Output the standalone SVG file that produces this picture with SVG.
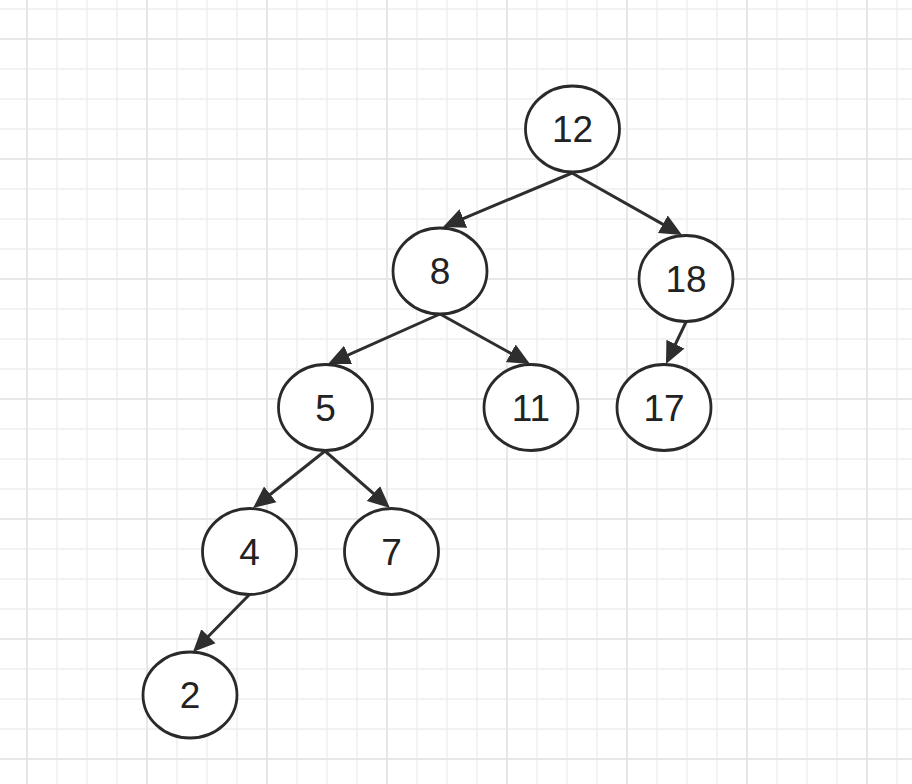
<svg xmlns="http://www.w3.org/2000/svg" width="912" height="784" viewBox="0 0 912 784">
  <style>
    .node ellipse { fill: #ffffff; stroke: #2a2a2a; stroke-width: 2.8; }
    .node text { font-family: "Liberation Sans", Arial, Helvetica, sans-serif; font-size: 37px; fill: #222222; text-anchor: middle; }
    .edge { stroke: #2e2e2e; stroke-width: 3; fill: none; marker-end: url(#arrow); }
  </style>
  <defs>
    <pattern id="minor" patternUnits="userSpaceOnUse" x="12" y="-6" width="30" height="30">
      <path d="M15,0 V30 M0,15 H30" stroke="#eeeeee" stroke-width="1.4" fill="none"/>
    </pattern>
    <pattern id="major" patternUnits="userSpaceOnUse" x="-33" y="-21" width="120" height="120">
      <path d="M60,0 V120 M0,60 H120" stroke="#e4e4e4" stroke-width="1.6" fill="none"/>
    </pattern>
    <marker id="arrow" markerUnits="userSpaceOnUse" viewBox="0 -12 24 24" refX="15" refY="0" markerWidth="24" markerHeight="24" orient="auto">
      <path d="M0,-10 L22,0 L0,10 Z" fill="#2e2e2e"/>
    </marker>
  </defs>
  <g id="background">
    <rect width="912" height="784" fill="#ffffff"/>
    <rect width="912" height="784" fill="url(#minor)"/>
    <rect width="912" height="784" fill="url(#major)"/>
  </g>
  <g id="connectors">
    <line class="edge" x1="572" y1="173" x2="449.5" y2="224.3"/>
    <line class="edge" x1="572" y1="173" x2="675.9" y2="231.6"/>
    <line class="edge" x1="440" y1="314" x2="334.4" y2="361.1"/>
    <line class="edge" x1="440" y1="314" x2="523.9" y2="360.6"/>
    <line class="edge" x1="686" y1="322" x2="669.0" y2="357.7"/>
    <line class="edge" x1="325" y1="451" x2="258.5" y2="503.7"/>
    <line class="edge" x1="325" y1="451" x2="384.7" y2="503.4"/>
    <line class="edge" x1="249" y1="595" x2="197.9" y2="647.0"/>
  </g>
  <g id="n12" class="node"><ellipse cx="572.5" cy="129" rx="47" ry="43"/><text x="572.5" y="142">12</text></g>
  <g id="n8" class="node"><ellipse cx="440" cy="271" rx="47" ry="43"/><text x="440" y="284">8</text></g>
  <g id="n18" class="node"><ellipse cx="686" cy="278.5" rx="47" ry="43"/><text x="686" y="291.5">18</text></g>
  <g id="n5" class="node"><ellipse cx="325.5" cy="407.5" rx="47" ry="43"/><text x="325.5" y="420.5">5</text></g>
  <g id="n11" class="node"><ellipse cx="531" cy="407.5" rx="47" ry="43"/><text x="531" y="420.5">11</text></g>
  <g id="n17" class="node"><ellipse cx="664" cy="407.5" rx="47" ry="43"/><text x="664" y="420.5">17</text></g>
  <g id="n4" class="node"><ellipse cx="249.5" cy="551.5" rx="47" ry="43"/><text x="249.5" y="564.5">4</text></g>
  <g id="n7" class="node"><ellipse cx="391.5" cy="551.5" rx="47" ry="43"/><text x="391.5" y="564.5">7</text></g>
  <g id="n2" class="node"><ellipse cx="190" cy="695" rx="47" ry="43"/><text x="190" y="708">2</text></g>
</svg>
